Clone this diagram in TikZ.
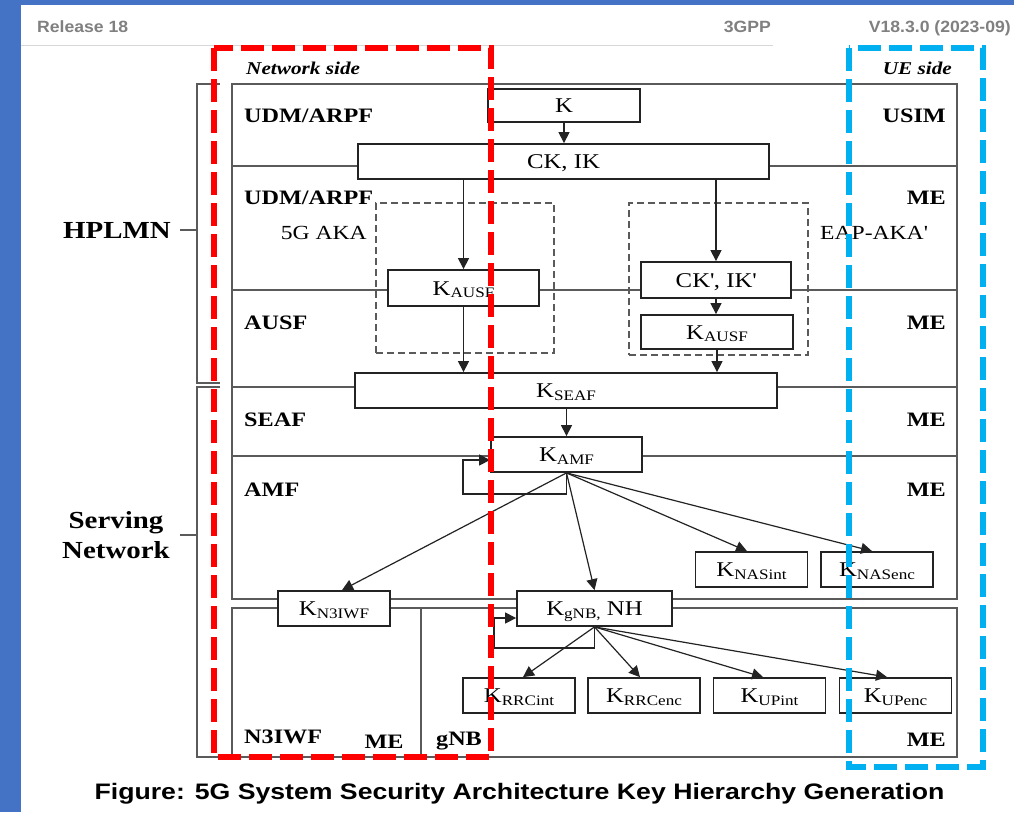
\documentclass[tikz,border=0pt]{standalone}
\usepackage{fontspec}
\setmainfont{Liberation Serif}[FakeStretch=1.18]
\newfontfamily\capfont{Liberation Sans}[FakeStretch=1.19]
\newfontfamily\headfont{Liberation Sans}[FakeStretch=1.08]
\usetikzlibrary{arrows.meta,positioning,calc}
\definecolor{shotblue}{RGB}{68,114,196}
\definecolor{framegray}{RGB}{90,90,90}
\definecolor{boxline}{RGB}{35,35,35}
\definecolor{netred}{RGB}{255,0,0}
\definecolor{uecyan}{RGB}{0,176,240}
\definecolor{headgray}{RGB}{128,128,128}
\definecolor{rulegray}{RGB}{215,215,215}
\newcommand{\kkey}[1]{K\raisebox{-2.5pt}{\fontsize{14.5}{14.5}\selectfont #1}}

\begin{document}
\begin{tikzpicture}[x=1pt, y=-1pt,
    lane/.style={draw=framegray, line width=1.3pt},
    keybox/.style={draw=boxline, line width=1.8pt, fill=white, inner sep=0pt,
      minimum height=35pt, text height=14pt, text depth=0pt,
      font=\fontsize{21}{21}\selectfont},
    dashbox/.style={draw=framegray, line width=1.3pt, dash pattern=on 7pt off 4pt,
      inner sep=0pt},
    arr/.style={draw=boxline, line width=1.2pt, -{Triangle[length=11pt,width=11pt]}},
    lbl/.style={inner sep=0pt, font=\fontsize{20.5}{20.5}\selectfont\bfseries},
    headtxt/.style={inner sep=0pt, text=headgray, font=\headfont\bfseries\fontsize{16.3}{16.3}\selectfont}]
  \useasboundingbox (0,0) rectangle (1014,812);
  % Screenshot page
  \fill[white] (0,0) rectangle (1014,812);
  \fill[shotblue] (0,0) rectangle (21,812);
  \fill[shotblue] (0,0) rectangle (1014,5);
  \draw[rulegray, line width=1pt] (21,45) -- (773,45);
  \node[headtxt, anchor=base west] (release) at (37,32) {Release 18};
  \node[headtxt, anchor=base east] (tgpp) at (771,32) {3GPP};
  \node[headtxt, anchor=base east] (version) at (1011,32) {V18.3.0 (2023-09)};

  % Lanes
  \draw[lane] (232,84) rectangle (957,599);
  \draw[lane] (232,608) rectangle (957,757);
  \draw[lane] (421,608) -- (421,757);
  \foreach \y in {166,290,387,456} {
    \draw[lane] (232,\y) -- (957,\y);
  }
  % Domain brackets
  \draw[lane] (220,84) -- (197,84) -- (197,383) -- (220,383);
  \draw[lane] (220,387) -- (197,387) -- (197,757) -- (220,757);
  \node[anchor=east, inner xsep=9pt, inner ysep=0pt,
    font=\fontsize{24.5}{30}\selectfont\bfseries] (hplmn) at (180,230) {HPLMN};
  \node[anchor=east, align=center, inner xsep=10pt, inner ysep=0pt,
    font=\fontsize{24.5}{30}\selectfont\bfseries] (servnet) at (180,535) {Serving\\Network};
  \draw[lane] (hplmn.east) -- (197,230);
  \draw[lane] (servnet.east) -- (197,535);

  % Lane labels
  \node[inner sep=0pt, anchor=base west, font=\fontsize{18}{18}\selectfont\bfseries\itshape] (netside) at (246,74) {Network side};
  \node[inner sep=0pt, anchor=base east, font=\fontsize{18}{18}\selectfont\bfseries\itshape] (ueside) at (952,74) {UE side};
  \node[lbl, anchor=base west] (udma) at (244,122) {UDM/ARPF};
  \node[lbl, anchor=base west] (udmb) at (244,204) {UDM/ARPF};
  \node[lbl, anchor=base west] (ausf) at (244,329) {AUSF};
  \node[lbl, anchor=base west] (seaf) at (244,426) {SEAF};
  \node[lbl, anchor=base west] (amf) at (244,496) {AMF};
  \node[lbl, anchor=base west] (n3iwf) at (244,743) {N3IWF};
  \node[lbl, anchor=base] (men3) at (384,748) {ME};
  \node[lbl, anchor=base] (gnb) at (459,745) {gNB};
  \node[lbl, anchor=base east] (usim) at (946,122) {USIM};
  \foreach \y/\n in {204/mea, 329/meb, 426/mec, 496/med, 746/mee} {
    \node[lbl, anchor=base east] (\n) at (946,\y) {ME};
  }

  % Authentication methods
  \node[dashbox, minimum width=178pt, minimum height=150pt] (aka) at (465,278) {};
  \node[dashbox, minimum width=179pt, minimum height=152pt] (eap) at (718.5,279) {};
  \node[inner sep=0pt, anchor=base east, font=\fontsize{20}{20}\selectfont] (akalbl) at (367,239.5) {5G AKA};
  \node[inner sep=0pt, anchor=base west, font=\fontsize{20}{20}\selectfont] (eaplbl) at (820,239.5) {EAP-AKA\textquotesingle};

  % Keys
  \node[keybox, minimum width=152pt, minimum height=33pt] (k) at (564,105.5) {K};
  \node[keybox, minimum width=411pt] (ckik) at (563.5,161.5) {CK, IK};
  \node[keybox, minimum width=151pt, minimum height=36pt] (kausfa) at (463.5,288) {\kkey{AUSF}};
  \node[keybox, minimum width=150pt, minimum height=36pt] (ckikp) at (716,280) {CK\textquotesingle, IK\textquotesingle};
  \node[keybox, minimum width=152pt, minimum height=34pt] (kausfb) at (717,332) {\kkey{AUSF}};
  \node[keybox, minimum width=422pt] (kseaf) at (566,390.5) {\kkey{SEAF}};
  \node[keybox, minimum width=151pt] (kamf) at (566.5,454.5) {\kkey{AMF}};
  \node[keybox, minimum width=112pt] (kn3iwf) at (334,608.5) {\kkey{N3IWF}};
  \node[keybox, minimum width=155pt] (kgnb) at (594.5,608.5) {\kkey{gNB,} NH};
  \foreach \n/\x/\s in {knasint/751.5/NASint, knasenc/877/NASenc} {
    \node[keybox, minimum width=112pt] (\n) at (\x,569.5) {\kkey{\s}};
  }
  \foreach \n/\x/\s in {krrcint/519/RRCint, krrcenc/644/RRCenc, kupint/769.5/UPint, kupenc/895.5/UPenc} {
    \node[keybox, minimum width=112pt] (\n) at (\x,695.5) {\kkey{\s}};
  }

  % Derivations
  \draw[arr] (k.south) -- (k.south |- ckik.north);
  \draw[arr] (kausfa.north |- ckik.south) -- (kausfa.north);
  \draw[arr] (kausfa.south) -- (kausfa.south |- kseaf.north);
  \draw[arr] (ckikp.north |- ckik.south) -- (ckikp.north);
  \draw[arr] (ckikp.south) -- (ckikp.south |- kausfb.north);
  \draw[arr] (kausfb.south) -- (kausfb.south |- kseaf.north);
  \draw[arr] (kamf.north |- kseaf.south) -- (kamf.north);
  \coordinate (amfloop) at (463,494);
  \draw[arr] (kamf.south) |- (amfloop) |- ([yshift=-5.5pt]kamf.west);
  \draw[arr] (kamf.south) -- ([xshift=8pt]kn3iwf.north);
  \draw[arr] (kamf.south) -- (kgnb.north);
  \draw[arr] (kamf.south) -- ([xshift=-4.5pt]knasint.north);
  \draw[arr] (kamf.south) -- ([xshift=-5pt]knasenc.north);
  \coordinate (gnbloop) at (494,648);
  \draw[arr] (kgnb.south) |- (gnbloop) |- ([yshift=-9.5pt]kgnb.west);
  \foreach \n/\dx in {krrcint/4, krrcenc/-4, kupint/-6.5, kupenc/-8.5} {
    \draw[arr] (kgnb.south) -- ([xshift=\dx pt]\n.north);
  }

  % Highlight frames
  \draw[netred, line width=6pt, dash pattern=on 23pt off 8pt] (214,48) rectangle (491,757);
  \draw[uecyan, line width=6pt, dash pattern=on 23pt off 8pt] (849,48) rectangle (983,767);

  % Caption
  \node[inner sep=0pt, anchor=base, font=\capfont\bfseries\fontsize{22.4}{22.4}\selectfont] (caption) at (519.5,799)
    {Figure: 5G System Security Architecture Key Hierarchy Generation};
\end{tikzpicture}
\end{document}
